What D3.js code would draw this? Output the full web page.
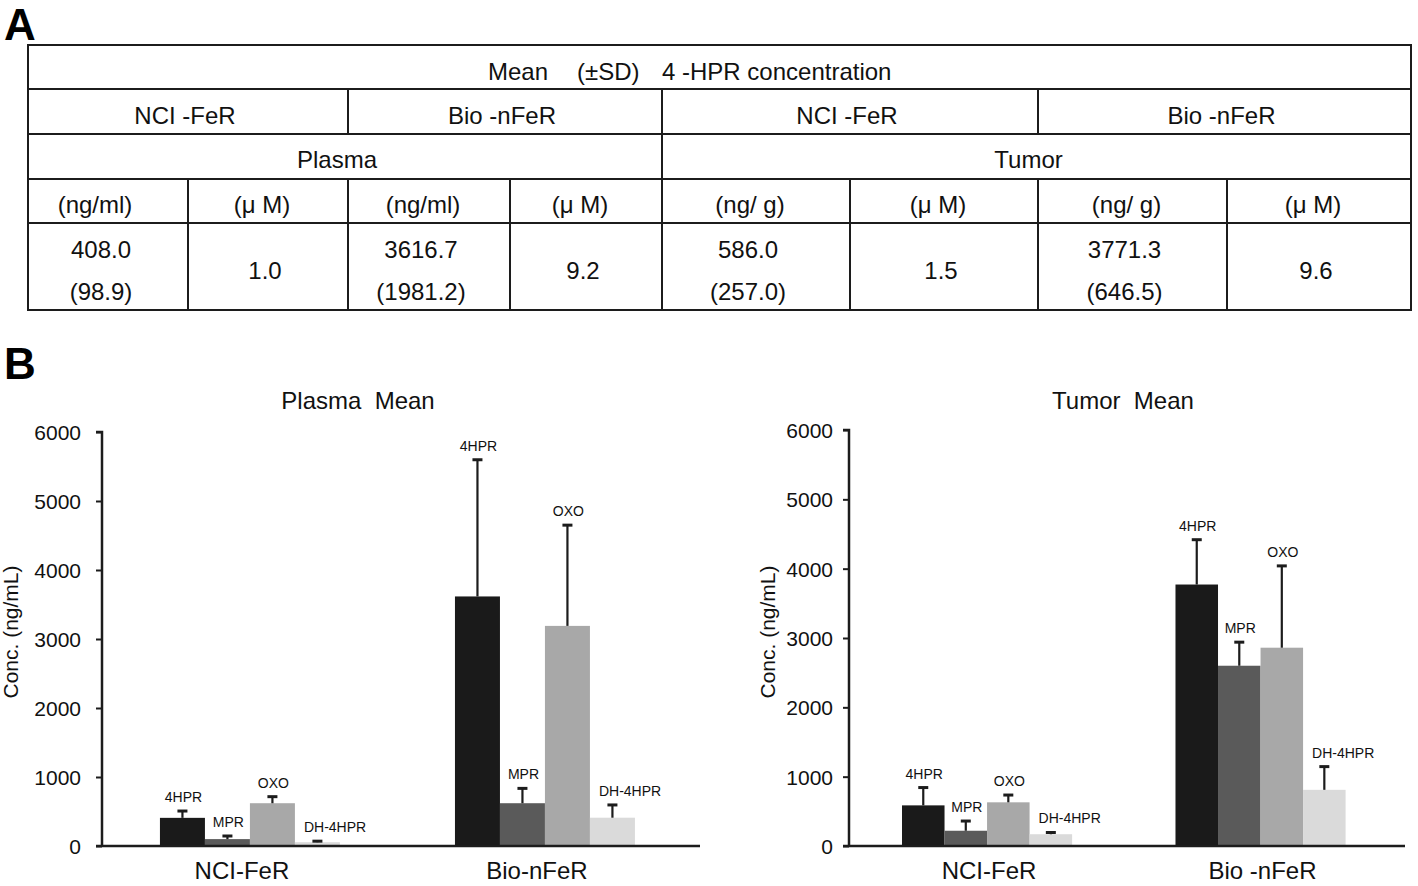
<!DOCTYPE html>
<html><head><meta charset="utf-8">
<script src="https://cdn.jsdelivr.net/npm/d3@7"></script>
<style>
body{margin:0;background:#fff;}
svg{display:block;font-family:"Liberation Sans",Arial,Helvetica,sans-serif;}
</style></head><body>
<svg id="fig" width="1418" height="886"></svg>
<script>
// ---------- DATA ----------
const series = ["4HPR", "MPR", "OXO", "DH-4HPR"];
const categories = ["NCI-FeR", "Bio-nFeR"];
const plasmaCategoryLabels = ["NCI-FeR", "Bio-nFeR"];
const tumorCategoryLabels = ["NCI-FeR", "Bio -nFeR"];
// rows: categories, columns: series
const plasmaMean = [[408.0, 100, 620, 55], [3616.7, 620, 3190, 410]];
const plasmaSD   = [[98.9, 45, 95, 15], [1981.2, 215, 1460, 185]];
const tumorMean  = [[586.0, 220, 630, 170], [3771.3, 2600, 2860, 810]];
const tumorSD    = [[257.0, 140, 105, 25], [646.5, 340, 1180, 335]];
const yTicks = [0, 1000, 2000, 3000, 4000, 5000, 6000];
const seriesColors = ["#1a1a1a", "#5a5a5a", "#a8a8a8", "#dadada"];

// table content
const tableTitleParts = ["Mean", "(\u00B1SD)", "4 -HPR concentration"];
const tableGroups = ["NCI -FeR", "Bio -nFeR", "NCI -FeR", "Bio -nFeR"];
const tableTissues = ["Plasma", "Tumor"];
const tableUnits = ["(ng/ml)", "(\u03BC M)", "(ng/ml)", "(\u03BC M)", "(ng/ g)", "(\u03BC M)", "(ng/ g)", "(\u03BC M)"];
const tableMeans = ["408.0", "3616.7", "586.0", "3771.3"];
const tableSDs = ["(98.9)", "(1981.2)", "(257.0)", "(646.5)"];
const tableMolar = ["1.0", "9.2", "1.5", "9.6"];

// ---------- LAYOUT ----------
const svg = d3.select("#fig");
const ink = "#1c1c1c";

// Panel letters
svg.append("text").attr("x", 4).attr("y", 40).attr("font-size", 44).attr("font-weight", "bold").attr("fill", "#000").text("A");
svg.append("text").attr("x", 4).attr("y", 379).attr("font-size", 44).attr("font-weight", "bold").attr("fill", "#000").text("B");

// ---------- TABLE ----------
const colEdges = [28, 188, 348, 510, 662, 850, 1038, 1227, 1411];
const rowEdges = [45, 89, 134, 179, 223, 310];
const tg = svg.append("g").attr("stroke", ink).attr("stroke-width", 2).attr("fill", "none");
tg.append("rect").attr("x", colEdges[0]).attr("y", rowEdges[0])
  .attr("width", colEdges[8] - colEdges[0]).attr("height", rowEdges[5] - rowEdges[0]);
rowEdges.slice(1, 5).forEach(y => tg.append("line").attr("x1", colEdges[0]).attr("x2", colEdges[8]).attr("y1", y).attr("y2", y));
[2, 4, 6].forEach(i => tg.append("line").attr("x1", colEdges[i]).attr("x2", colEdges[i]).attr("y1", rowEdges[1]).attr("y2", rowEdges[2]));
tg.append("line").attr("x1", colEdges[4]).attr("x2", colEdges[4]).attr("y1", rowEdges[2]).attr("y2", rowEdges[3]);
colEdges.slice(1, 8).forEach(x => tg.append("line").attr("x1", x).attr("x2", x).attr("y1", rowEdges[3]).attr("y2", rowEdges[5]));

const tt = svg.append("g").attr("font-size", 24).attr("fill", "#111");
const titleX = [488, 577, 662];
tableTitleParts.forEach((s, i) => tt.append("text").attr("x", titleX[i]).attr("y", 80).text(s));
tableGroups.forEach((s, i) => {
  const cx = (colEdges[i * 2] + colEdges[i * 2 + 2]) / 2 - 3;
  tt.append("text").attr("x", cx).attr("y", 124).attr("text-anchor", "middle").text(s);
});
tableTissues.forEach((s, i) => {
  const cx = (colEdges[i * 4] + colEdges[i * 4 + 4]) / 2 - 8;
  tt.append("text").attr("x", cx).attr("y", 168).attr("text-anchor", "middle").text(s);
});
tableUnits.forEach((s, i) => {
  const cx = (colEdges[i] + colEdges[i + 1]) / 2 - (i === 0 ? 13 : 6);
  tt.append("text").attr("x", cx).attr("y", 213).attr("text-anchor", "middle").text(s);
});
tableMeans.forEach((s, i) => {
  const cx = (colEdges[i * 2] + colEdges[i * 2 + 1]) / 2 - (i === 0 ? 7 : 8);
  tt.append("text").attr("x", cx).attr("y", 258).attr("text-anchor", "middle").text(s);
  tt.append("text").attr("x", cx).attr("y", 300).attr("text-anchor", "middle").text(tableSDs[i]);
  const mx = (colEdges[i * 2 + 1] + colEdges[i * 2 + 2]) / 2 - 3;
  tt.append("text").attr("x", mx).attr("y", 279).attr("text-anchor", "middle").text(tableMolar[i]);
});

// ---------- BAR CHARTS ----------
function drawChart(cfg) {
  const g = svg.append("g");
  const y = d3.scaleLinear().domain([0, 6000]).range([846, cfg.yTop]);
  const x0 = d3.scaleBand().domain(categories).range([cfg.axisX, cfg.xEnd])
    .paddingInner(cfg.pi).paddingOuter(cfg.po).align(cfg.align);
  const x1 = d3.scaleBand().domain(series).range([0, x0.bandwidth()]);

  g.append("text").attr("x", cfg.titleX).attr("y", 409).attr("text-anchor", "middle")
    .attr("font-size", 24).attr("fill", "#111").style("white-space", "pre").text(cfg.title);

  const ya = d3.axisLeft(y).tickValues(yTicks).tickSize(6).tickPadding(cfg.tickPad).tickFormat(d3.format("d"));
  const yg = g.append("g").attr("transform", `translate(${cfg.axisX},0)`).call(ya);
  yg.select(".domain").attr("stroke", ink).attr("stroke-width", 2.5).attr("d", `M-6,${y(6000)}H0V${y(0)}`);
  yg.selectAll(".tick line").attr("stroke", ink).attr("stroke-width", 2);
  yg.selectAll(".tick text").attr("font-size", 21).attr("fill", "#111")
    .attr("font-family", "'Liberation Sans',Arial,sans-serif").attr("dy", "0.36em");

  g.append("text").attr("transform", `translate(${cfg.yTitleX},632) rotate(-90)`)
    .attr("text-anchor", "middle").attr("font-size", 21).attr("fill", "#111").text("Conc. (ng/mL)");

  const mean = cfg.mean, sd = cfg.sd;
  categories.forEach((c, ci) => {
    const gg = g.append("g").attr("transform", `translate(${x0(c)},0)`);
    gg.selectAll("rect").data(series).join("rect")
      .attr("x", s => x1(s)).attr("width", x1.bandwidth())
      .attr("y", (s, si) => y(mean[ci][si]))
      .attr("height", (s, si) => y(0) - y(mean[ci][si]))
      .attr("fill", (s, si) => seriesColors[si]);
    series.forEach((s, si) => {
      const cx = x1(s) + x1.bandwidth() / 2;
      const top = y(mean[ci][si] + sd[ci][si]);
      gg.append("line").attr("x1", cx).attr("x2", cx).attr("y1", y(mean[ci][si])).attr("y2", top)
        .attr("stroke", ink).attr("stroke-width", 2.2);
      gg.append("line").attr("x1", cx - 5).attr("x2", cx + 5).attr("y1", top).attr("y2", top)
        .attr("stroke", ink).attr("stroke-width", 3);
      const last = si === series.length - 1;
      gg.append("text")
        .attr("x", last ? x1(s) + 9 : cx + 1)
        .attr("y", top - 9)
        .attr("text-anchor", last ? "start" : "middle")
        .attr("font-size", 14).attr("fill", "#111").text(s);
    });
  });

  g.append("line").attr("x1", cfg.axisX - 6).attr("x2", cfg.xEnd).attr("y1", y(0)).attr("y2", y(0))
    .attr("stroke", ink).attr("stroke-width", 2.5);
  categories.forEach((c, ci) => {
    g.append("text").attr("x", x0(c) + x0.bandwidth() / 2 + cfg.catDx).attr("y", 879)
      .attr("text-anchor", "middle").attr("font-size", 24).attr("fill", "#111").text(cfg.catLabels[ci]);
  });
}

drawChart({
  title: "Plasma  Mean", titleX: 358, axisX: 102, xEnd: 700, yTop: 432,
  pi: 0.39, po: 0.2085, align: 0.471, tickPad: 15, yTitleX: 18,
  mean: plasmaMean, sd: plasmaSD, catLabels: plasmaCategoryLabels, catDx: -8
});
drawChart({
  title: "Tumor  Mean", titleX: 1123, axisX: 849, xEnd: 1405, yTop: 430,
  pi: 0.378, po: 0.2055, align: 0.4715, tickPad: 10, yTitleX: 775,
  mean: tumorMean, sd: tumorSD, catLabels: tumorCategoryLabels, catDx: 2
});
</script>
</body></html>
